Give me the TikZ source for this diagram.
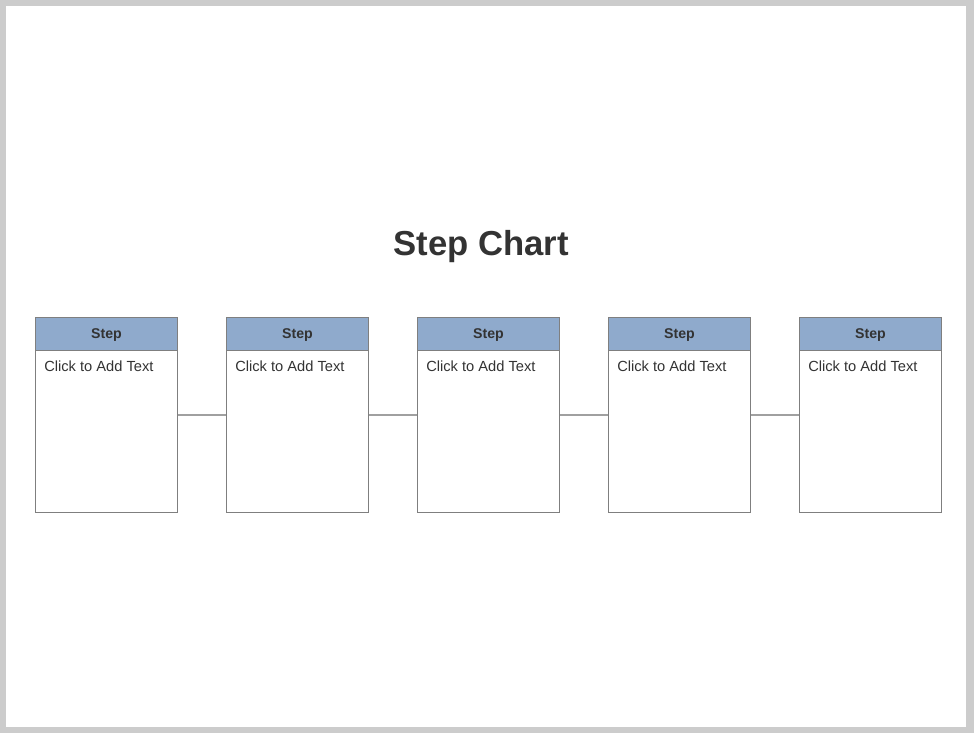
\documentclass[tikz,border=0pt]{standalone}
\usepackage{fontspec}
\setmainfont{Liberation Sans}
\definecolor{frame}{HTML}{CCCCCC}
\definecolor{hdr}{HTML}{8FAACC}
\definecolor{edge}{HTML}{7F7F7F}
\definecolor{link}{HTML}{A0A0A0}
\definecolor{ink}{HTML}{333333}
\begin{document}
\begin{tikzpicture}[x=0.75pt,y=-0.75pt,
  body/.style={draw=edge,fill=white,line width=0.75pt,minimum width=142*0.75pt,minimum height=195*0.75pt,inner sep=0pt,anchor=north west},
  head/.style={draw=edge,fill=hdr,line width=0.75pt,minimum width=142*0.75pt,minimum height=33*0.75pt,inner sep=0pt,anchor=north west},
  headtext/.style={inner sep=0pt,font=\fontsize{10.6pt}{12pt}\selectfont\bfseries,text=ink},
  bodytext/.style={anchor=north west,inner sep=0pt,font=\fontsize{11pt}{13pt}\selectfont,text=ink},
  linkline/.style={draw=link,line width=1.5pt}]
\fill[frame] (0,0) rectangle (974,733);
\fill[white] (6,6) rectangle (966,727);
\useasboundingbox (0,0) rectangle (974,733);
\node[font=\fontsize{26pt}{31pt}\selectfont\bfseries,text=ink] (title) at (481,247) {Step Chart};
\foreach \i/\x in {1/35,2/226,3/417,4/608,5/799}{
  \node[body] (b\i) at (\x,317) {};
  \node[head] (h\i) at (\x,317) {};
  \node[headtext] (s\i) at ([yshift=-0.8pt]h\i.center) {Step};
  \node[bodytext] (t\i) at (\x+9,361) {Click to Add Text};
}
\foreach \a/\b in {1/2,2/3,3/4,4/5}{
  \draw[linkline] (b\a.east) -- (b\b.west);
}
\end{tikzpicture}
\end{document}
